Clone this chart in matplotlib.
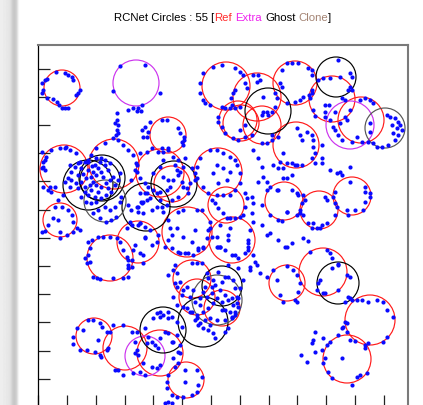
import numpy as np
import matplotlib
matplotlib.use("Agg")
import matplotlib.pyplot as plt
from matplotlib.patches import Circle

# values, canvas units (x right, y down)
ref_x = [62, 64, 114, 60, 110, 138, 160, 172, 187, 218, 226, 232, 168, 226, 257, 238,
         241, 262, 295, 332, 361, 296, 284, 319, 352, 323, 287, 370, 347, 192, 197, 222,
         160, 125, 94, 186]
ref_y = [88, 169, 164, 220, 258, 242, 173, 184, 232, 172, 205, 240, 135, 86, 97, 120,
         123, 125, 83, 99, 120, 145, 201, 210, 196, 272, 283, 320, 359, 279, 297, 308,
         353, 348, 336, 380]
ref_r = [18, 24, 25, 17, 23, 21, 24, 18, 25, 24, 18, 23, 18, 24, 24, 19,
         18, 19, 22, 23, 23, 23, 19, 19, 19, 24, 18, 25, 24, 19, 18, 18,
         23, 22, 18, 18]

extra_x = [136, 350, 145]
extra_y = [83, 125, 356]
extra_r = [23, 24, 20]

ghost_x = [88, 102, 100, 174, 268, 336, 338, 222, 163, 203, 146]
ghost_y = [185, 178, 180, 184, 111, 77, 283, 286, 330, 322, 207]
ghost_r = [25, 23, 20, 23, 23, 20, 21, 20, 23, 25, 24]

faint_x = [105, 385, 217]
faint_y = [201, 128, 300]
faint_r = [21, 20, 25]

hits = np.array([
    (42, 83), (43, 90), (42, 93), (47, 79), (56, 72), (65, 73), (68, 75), (72, 77), (73, 80),
    (78, 93), (76, 95), (53, 99), (59, 105), (62, 108), (65, 108), (68, 108), (47, 98), (45, 80),
    (80, 90), (57, 102),
    (120, 66), (145, 65), (113, 91), (160, 93), (128, 110), (133, 108), (138, 108), (141, 111),
    (142, 105), (137, 111),
    (117, 113), (117, 120), (115, 123), (117, 130), (116, 135), (118, 125),
    (142, 130), (145, 127), (148, 132), (143, 137), (147, 137), (150, 122), (162, 120), (167, 120),
    (178, 128), (180, 133), (184, 137), (184, 140), (162, 148), (168, 148), (152, 148),
    (203, 73), (213, 67), (222, 65), (235, 68), (240, 72), (243, 75), (200, 83), (200, 93),
    (203, 100), (205, 103), (210, 105), (233, 93), (235, 90), (231, 98),
    (253, 75), (258, 75), (260, 80), (257, 82), (245, 83), (247, 88), (275, 93), (277, 98),
    (282, 87), (263, 97),
    (275, 107), (272, 112), (267, 112), (262, 115), (272, 135), (278, 137), (272, 140),
    (222, 107), (225, 108), (230, 108), (235, 108), (232, 105), (240, 107), (218, 117), (218, 122),
    (222, 127), (225, 133), (233, 138), (238, 140), (245, 137), (252, 135), (245, 125), (240, 130),
    (263, 112), (268, 115), (267, 143), (262, 143),
    (287, 63), (292, 63), (298, 63), (308, 68), (312, 70), (312, 75), (312, 90), (309, 95),
    (295, 102), (287, 103), (282, 70), (280, 83),
    (338, 60), (350, 73), (352, 77), (348, 90), (318, 80), (323, 78),
    (330, 78), (340, 77), (350, 87), (352, 90), (312, 93), (310, 98), (313, 110), (315, 116),
    (325, 105), (329, 105), (325, 112), (325, 117), (345, 100), (342, 98), (303, 97), (300, 100),
    (330, 120), (333, 127), (335, 130), (338, 135), (342, 140), (352, 142), (357, 137), (362, 142),
    (368, 142), (365, 98), (360, 100), (370, 100), (373, 103), (345, 117), (347, 120), (350, 110),
    (335, 112), (340, 123),
    (390, 117), (395, 118), (398, 122), (400, 125), (402, 130), (398, 135), (395, 140), (388, 145),
    (382, 147), (377, 147), (373, 143), (370, 123), (370, 132), (397, 128), (393, 133), (392, 125),
    (387, 115),
    (297, 128), (307, 132), (312, 135), (313, 140), (313, 147), (315, 153), (312, 158), (302, 165),
    (295, 165), (287, 163), (283, 153), (300, 135), (302, 140), (322, 145), (322, 158), (330, 170),
    (340, 172), (350, 167),
    (278, 168), (292, 163), (297, 165), (315, 163), (322, 163), (337, 173), (342, 175),
    (283, 178), (287, 178), (292, 175),
    (277, 190), (278, 190), (292, 190), (297, 193), (298, 195), (287, 212), (278, 220), (282, 221),
    (297, 215), (300, 213),
    (303, 195), (305, 200), (302, 203), (300, 210), (303, 215), (308, 223), (312, 228), (317, 228),
    (320, 228), (322, 225), (327, 223), (325, 197), (327, 200), (313, 223), (335, 215),
    (350, 182), (365, 187), (365, 192), (370, 193), (370, 197), (365, 202), (363, 210), (355, 210),
    (347, 210), (335, 192), (335, 203), (337, 207), (348, 215), (333, 197),
    (287, 247), (292, 243),
    (310, 252), (327, 250), (330, 253), (332, 258), (338, 264),
    (280, 295), (283, 302), (287, 266), (293, 270), (297, 275), (300, 283), (298, 292), (295, 300),
    (297, 302),
    (320, 280), (318, 283), (323, 293), (317, 290), (332, 268), (338, 265), (347, 275), (350, 277),
    (338, 290),
    (325, 293), (345, 302), (348, 297), (350, 298),
    (352, 300), (357, 300), (362, 300), (368, 302), (377, 300), (383, 302), (387, 310), (393, 317),
    (387, 337), (383, 342), (368, 343), (365, 345), (345, 322), (347, 332), (350, 340), (343, 327),
    (342, 328), (347, 323),
    (330, 342), (327, 345), (322, 350), (325, 358), (323, 363), (328, 372), (332, 378), (352, 385),
    (357, 377), (360, 375), (367, 373), (365, 348), (342, 358), (315, 332), (313, 340),
    (312, 343), (323, 338), (315, 352), (301, 355), (307, 362), (338, 335), (355, 341),
    (87, 263), (97, 278), (100, 279), (113, 278), (123, 278), (128, 277), (128, 268), (132, 267),
    (93, 277),
    (77, 328), (73, 337), (73, 344), (80, 350), (87, 350), (95, 352), (100, 355), (101, 357),
    (98, 340), (88, 320), (93, 320), (100, 323), (102, 327), (107, 332), (107, 350), (83, 330),
    (113, 325), (123, 325), (110, 332), (108, 348), (115, 370), (123, 375), (118, 370), (133, 373),
    (137, 332), (135, 353),
    (157, 313), (160, 312), (168, 312), (172, 317), (177, 322), (182, 327), (145, 328), (148, 337),
    (152, 342), (155, 345), (158, 348), (160, 338), (165, 332), (168, 333), (172, 342), (173, 342),
    (177, 335), (180, 345), (178, 352), (173, 358), (160, 365), (157, 368), (152, 367), (143, 363),
    (140, 372), (145, 375), (138, 355), (137, 350), (147, 343), (135, 342), (132, 332),
    (187, 308), (192, 312), (197, 318), (198, 325), (203, 328), (208, 330), (213, 333), (215, 338),
    (225, 332), (228, 328), (232, 318), (235, 315), (225, 310), (205, 320), (210, 325),
    (168, 375), (167, 382), (167, 388), (172, 395), (177, 397), (183, 397), (192, 395), (197, 392),
    (198, 385), (202, 377), (197, 370), (185, 370), (185, 382), (180, 353), (168, 402), (165, 403),
    (172, 403), (178, 363), (175, 367),
    (152, 245), (180, 253), (185, 253), (193, 255), (198, 248), (203, 248), (217, 247), (220, 247),
    (235, 255), (248, 243), (248, 250), (257, 265), (250, 270), (260, 273), (175, 265), (173, 270),
    (177, 273), (168, 275), (192, 263), (197, 263), (202, 263), (207, 273), (208, 278), (205, 287),
    (203, 292), (200, 298), (193, 290), (187, 287), (183, 290), (180, 282), (175, 283), (177, 287),
    (173, 297), (177, 305), (183, 307), (190, 312), (197, 315), (203, 312), (208, 308), (213, 303),
    (217, 298), (220, 290), (222, 282), (225, 277), (228, 277), (233, 280), (235, 288), (237, 297),
    (233, 305), (230, 312), (225, 320), (217, 320), (210, 318), (213, 280), (215, 285), (212, 293),
    (228, 300), (160, 317), (163, 315), (168, 318), (153, 318), (195, 320), (200, 323),
    (207, 297), (222, 302), (232, 298), (237, 303), (238, 298),
    (182, 295), (190, 297), (195, 302), (200, 305), (222, 310), (232, 317), (228, 265), (238, 268),
    (243, 280), (240, 288), (238, 307), (235, 312), (218, 272), (212, 287), (225, 295),
    (140, 153), (147, 152), (158, 152), (163, 152), (168, 150), (183, 145), (182, 142), (210, 150),
    (217, 150), (223, 153), (230, 157), (235, 160), (237, 165), (240, 173), (240, 183), (235, 190),
    (230, 195), (223, 195), (217, 195), (208, 193), (203, 187), (197, 167), (195, 173), (195, 180),
    (200, 158),
    (137, 165), (137, 172), (140, 178), (145, 183), (148, 187), (153, 190), (157, 193), (160, 192),
    (167, 190), (170, 187), (173, 180), (178, 175), (180, 172), (183, 167), (177, 170), (182, 182),
    (183, 187), (187, 188), (188, 193), (178, 197), (172, 200), (167, 205), (162, 207), (157, 207),
    (152, 210), (143, 213), (138, 212), (147, 193), (150, 198), (160, 200), (163, 177), (168, 180),
    (160, 167), (163, 160), (173, 157), (178, 160), (175, 165), (185, 158), (192, 168), (197, 178),
    (190, 183), (153, 173), (143, 202),
    (163, 212), (168, 220), (170, 228), (172, 235), (168, 240), (165, 247), (172, 248), (178, 252),
    (188, 253), (198, 250), (203, 247), (207, 238), (208, 230), (197, 210), (202, 210), (183, 210),
    (178, 212), (140, 223), (150, 230), (158, 235), (157, 242), (177, 228), (183, 237), (192, 242),
    (195, 230),
    (212, 200), (215, 203), (218, 208), (223, 213), (227, 218), (230, 218), (235, 218), (240, 217),
    (243, 215), (245, 207), (247, 198), (245, 193), (252, 197), (253, 203), (252, 213), (253, 222),
    (250, 230), (248, 240), (248, 247), (245, 253), (238, 258), (232, 255), (225, 250), (220, 247),
    (217, 237), (218, 247), (228, 235), (228, 240), (212, 237), (210, 228), (210, 222), (253, 255),
    (255, 262), (250, 267), (220, 225), (230, 228), (218, 183), (227, 180), (230, 172), (223, 168),
    (213, 173), (217, 165),
    (263, 177), (267, 182), (270, 187), (267, 190), (273, 165), (280, 162), (283, 168), (287, 212),
    (285, 247), (267, 235), (270, 233), (273, 270), (267, 277), (277, 280),
    (253, 150), (258, 158), (262, 167), (258, 182), (262, 205), (270, 215), (262, 225), (278, 240),
    (303, 238), (308, 241),
    (43, 162), (43, 167), (45, 170), (46, 157), (51, 150), (60, 148), (66, 147), (70, 150),
    (76, 153), (48, 190), (51, 192), (55, 187), (42, 152), (45, 160), (42, 168), (65, 148),
    (80, 162), (88, 160),
    (91, 155), (96, 148), (105, 143), (113, 138), (118, 140), (123, 145), (128, 150), (133, 155),
    (136, 163), (135, 170), (131, 180), (118, 133),
    (75, 167), (78, 163), (85, 162), (88, 162), (95, 165), (98, 168), (101, 172), (96, 175),
    (91, 177), (86, 178), (81, 182), (76, 183), (71, 180), (68, 178), (65, 182), (70, 187),
    (78, 188), (85, 187), (90, 185), (91, 190), (88, 195), (95, 197), (98, 192), (101, 187),
    (106, 183), (110, 180), (113, 177), (108, 170), (105, 165), (100, 162), (96, 158), (101, 158),
    (105, 160), (81, 168), (78, 175), (71, 172), (93, 172), (88, 170), (85, 192), (81, 197),
    (86, 202), (91, 203), (96, 202), (101, 198), (106, 195), (111, 192), (115, 185), (118, 180),
    (120, 173), (83, 174), (93, 182), (103, 177), (108, 188), (96, 185), (110, 163), (92, 166),
    (105, 207), (110, 210), (115, 207), (120, 202), (121, 197), (98, 210), (93, 213), (100, 218),
    (106, 222), (111, 220), (116, 217),
    (128, 205), (131, 210), (138, 207), (141, 202), (130, 222), (138, 225), (145, 227),
    (42, 232), (45, 231), (48, 225), (53, 218), (58, 220), (55, 207), (62, 207), (68, 210),
    (72, 215), (73, 222), (60, 232), (60, 238), (67, 235), (73, 232), (80, 230), (77, 228),
    (58, 200), (63, 195), (43, 187), (50, 187),
    (88, 242), (92, 240), (98, 237), (103, 237), (110, 237), (117, 238), (120, 242), (90, 248),
    (88, 255), (90, 262), (85, 258), (123, 250), (127, 257), (128, 260),
    (127, 228), (132, 225), (140, 223), (145, 237), (145, 238), (135, 245), (133, 250), (140, 253),
    (143, 255), (132, 260), (128, 265), (143, 263),
    (140, 193), (145, 193), (142, 203), (147, 200), (137, 207), (70, 165),
])

title_parts = ["RCNet Circles : 55 [", "Ref", "Extra", "Ghost", "Clone", "]"]
title_seps = ["", " ", " ", " ", ""]
title_colors = ["black", "#ff2a2a", "#ee22ee", "black", "#a48474", "black"]

W, H = 423, 405
fig = plt.figure(figsize=(W / 100, H / 100), dpi=100)
fig.patch.set_facecolor("white")

# window edge shadow at the far left
sh = fig.add_axes([0, 0, 20 / W, 1])
shade = np.array([0.93, 0.93, 0.93, 0.92, 0.92, 0.92, 0.91, 0.91, 0.9, 0.89, 0.86, 0.82,
                  0.79, 0.78, 0.79, 0.82, 0.88, 0.95, 0.99, 1.0])
sh.imshow(shade[None, :], cmap="gray", vmin=0, vmax=1, aspect="auto")
sh.axis("off")

x0, x1, ytop, ybot = 38.2, 408.0, 45.0, 407.0
ax = fig.add_axes([x0 / W, (H - ybot) / H, (x1 - x0) / W, (ybot - ytop) / H])
ax.set_xlim(x0, x1)
ax.set_ylim(ybot, ytop)

for xs, ys, rs, col in [(ref_x, ref_y, ref_r, "#ff1a1a"),
                        (extra_x, extra_y, extra_r, "#cc33ee"),
                        (ghost_x, ghost_y, ghost_r, "black"),
                        (faint_x, faint_y, faint_r, "#555555")]:
    for cx, cy, r in zip(xs, ys, rs):
        ax.add_patch(Circle((cx, cy), r, fill=False, ec=col, lw=0.85))

ax.plot(hits[:, 0], hits[:, 1], "o", color="#0a0aff", ms=3.0, mec="none")

for s in ["top", "right"]:
    ax.spines[s].set_color("#7a7a7a")
    ax.spines[s].set_linewidth(1.5)
ax.spines["left"].set_color("black")
ax.spines["left"].set_linewidth(0.9)
ax.set_xticks(np.arange(x0, x1, 28.8))
ax.set_yticks(np.arange(ybot, ytop, -28.2))
ax.tick_params(direction="in", length=8.6, width=0.9, colors="#222222",
               labelleft=False, labelbottom=False)

# multicolour title
rend = fig.canvas.get_renderer()
fs = 8.2


def text_width(s):
    t = fig.text(0, 0, s, fontsize=fs, family="Liberation Sans")
    w = t.get_window_extent(rend).width
    t.remove()
    return w


start = 114.0
prefix = ""
for i, (part, col) in enumerate(zip(title_parts, title_colors)):
    if i > 0:
        prefix += title_seps[i - 1]
    prefix += part
    xp = start + text_width(prefix) - text_width(part)
    fig.text(xp / W, 1 - 20.7 / H, part, fontsize=fs, family="Liberation Sans",
             color=col, ha="left", va="baseline")

fig.savefig("out.png", dpi=100)
